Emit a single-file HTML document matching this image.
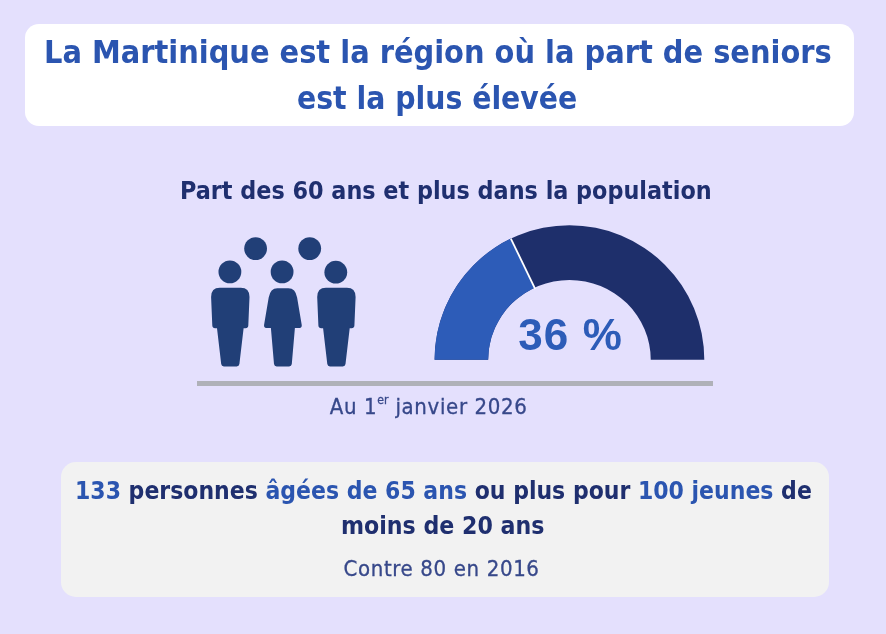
<!DOCTYPE html>
<html lang="fr">
<head>
<meta charset="utf-8">
<title>La Martinique est la région où la part de seniors est la plus élevée</title>
<style>
html,body{margin:0;padding:0;}
body{width:886px;height:634px;background:#e4e0fd;position:relative;overflow:hidden;font-family:"DejaVu Sans Condensed","Liberation Sans",sans-serif;}
.abs{position:absolute;}
.abs,.t{filter:blur(0.45px);}
.t{position:absolute;white-space:nowrap;line-height:1;}
#titlebox{left:25.3px;top:24.2px;width:828.7px;height:102px;background:#fff;border-radius:14px;}
.tl{font-weight:bold;color:#2b55b0;}
#t1{left:44.2px;top:36.32px;font-size:32.6px;letter-spacing:0px;transform:scaleX(0.98584);transform-origin:0 0;}
#t2{left:296.93px;top:82.4px;font-size:32.6px;letter-spacing:0px;transform:scaleX(0.96731);transform-origin:0 0;}
#sub{font-weight:bold;color:#1f2f6f;left:179.93px;top:179.3px;font-size:24.6px;letter-spacing:0px;transform:scaleX(1.00959);transform-origin:0 0;}
#line{left:196.5px;top:381.1px;width:516.4px;height:4.9px;background:#afb1b8;}
#date{color:#37488a;-webkit-text-stroke:0.3px #37488a;left:329.78px;top:395.7px;font-size:22px;letter-spacing:0.65px;}
#date sup{font-size:0.55em;vertical-align:baseline;position:relative;top:-0.78em;letter-spacing:0;}
#botbox{left:60.7px;top:462px;width:768.4px;height:134.9px;background:#f2f2f2;border-radius:15px;}
.bl{font-weight:bold;color:#1f2f6f;}
.bl b{color:#2b55b0;}
#b1{left:74.93px;top:479.24px;font-size:24.6px;letter-spacing:0px;transform:scaleX(0.995);transform-origin:0 0;}
#b2{left:341.48px;top:514.2px;font-size:24.6px;letter-spacing:0px;transform:scaleX(1.0003);transform-origin:0 0;}
#b3{color:#37488a;-webkit-text-stroke:0.3px #37488a;left:343.56px;top:558px;font-size:22px;letter-spacing:0.639px;}
#pct{font-family:"Liberation Sans",sans-serif;font-weight:bold;color:#2d5cb8;left:518.3px;top:313.2px;font-size:44px;letter-spacing:1.1px;}
</style>
</head>
<body>
<div id="titlebox" class="abs"></div>
<div id="t1" class="t tl">La Martinique est la région où la part de seniors</div>
<div id="t2" class="t tl">est la plus élevée</div>
<div id="sub" class="t">Part des 60 ans et plus dans la population</div>

<svg class="abs" style="left:0;top:0" width="886" height="634" viewBox="0 0 886 634">
  <g id="gauge">
    <path d="M434.6 359.8 A134.85 134.6 0 0 1 704.3 359.8 L650.75 359.8 A81.3 79.8 0 0 0 488.15 359.8 Z" fill="#1e2f6b"/>
    <path d="M434.6 359.8 A134.85 134.6 0 0 1 510.85 238.57 L534.60 287.70 A81.3 79.8 0 0 0 488.15 359.8 Z" fill="#2d5cb8"/>
    <line x1="510.85" y1="238.57" x2="535.25" y2="289.05" stroke="#fff" stroke-width="1.8"/>
  </g>
  <g id="people" fill="#213f77">
    <circle cx="255.6" cy="248.6" r="11.4"/>
    <circle cx="309.7" cy="248.6" r="11.4"/>
    <circle cx="229.9" cy="271.9" r="11.4"/>
    <circle cx="282.1" cy="271.9" r="11.4"/>
    <circle cx="335.8" cy="272.2" r="11.4"/>
    <path d="M211.1,297 Q211.1,287.8 219.8,287.8 L240.8,287.8 Q249.5,287.8 249.5,297 L248.3,325.6 Q248.1,328.3 245.5,328.3 L243.6,328.3 L239.4,364.0 Q239.1,366.4 236.7,366.4 L223.9,366.4 Q221.5,366.4 221.2,364.0 L217.0,328.3 L215.1,328.3 Q212.5,328.3 212.3,325.6 Z"/>
    <path d="M268.7,297.5 Q270.3,288.2 277.4,288.2 L288.4,288.2 Q295.5,288.2 297.1,297.5 L301.7,324.8 Q302.2,327.9 299.5,327.9 L294.9,327.9 L291.8,364.0 Q291.5,366.4 289.1,366.4 L276.7,366.4 Q274.3,366.4 274.0,364.0 L270.9,327.9 L266.3,327.9 Q263.6,327.9 264.1,324.8 Z"/>
    <path d="M317.2,297 Q317.2,287.8 325.9,287.8 L346.9,287.8 Q355.6,287.8 355.6,297 L354.4,325.6 Q354.2,328.3 351.6,328.3 L349.7,328.3 L345.5,364.0 Q345.2,366.4 342.8,366.4 L330.0,366.4 Q327.6,366.4 327.3,364.0 L323.1,328.3 L321.2,328.3 Q318.6,328.3 318.4,325.6 Z"/>
  </g>
</svg>

<div id="pct" class="t">36 %</div>
<div id="line" class="abs"></div>
<div id="date" class="t">Au 1<sup>er</sup> janvier 2026</div>

<div id="botbox" class="abs"></div>
<div id="b1" class="t bl"><b>133</b> personnes <b>âgées de 65 ans</b> ou plus pour <b>100 jeunes</b> de</div>
<div id="b2" class="t bl">moins de 20 ans</div>
<div id="b3" class="t">Contre 80 en 2016</div>
</body>
</html>
